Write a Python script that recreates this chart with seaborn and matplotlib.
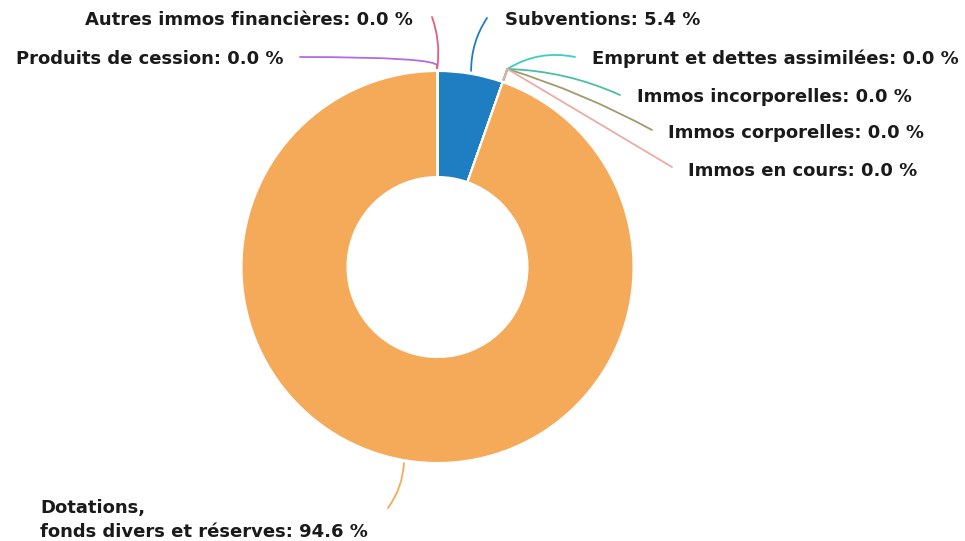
import numpy as np
import matplotlib
matplotlib.use('Agg')
import matplotlib.pyplot as plt
import seaborn as sns

# Données (pourcentages)
categories = [
    "Subventions",
    "Emprunt et dettes assimilées",
    "Immos incorporelles",
    "Immos corporelles",
    "Immos en cours",
    "Dotations,\nfonds divers et réserves",
    "Produits de cession",
    "Autres immos financières",
]
values = [5.4, 0.0, 0.0, 0.0, 0.0, 94.6, 0.0, 0.0]
colors = ["#1f7ec2", "#3ccfc0", "#49bfa6", "#a39a6c",
          "#eaaca6", "#f5aa5a", "#b36be6", "#e0607e"]

sns.set_style("white")
plt.rcParams['font.family'] = ['DejaVu Sans']

W, H = 965, 541
fig = plt.figure(figsize=(W / 100, H / 100), dpi=100)
ax = fig.add_axes([0, 0, 1, 1])

cx, cy = 437.5, H - 267
r_out, r_in = 196, 90

palette = sns.color_palette(colors)
wedges, _ = ax.pie(values, colors=palette, startangle=90, counterclock=False,
                   radius=r_out, center=(cx, cy), frame=True,
                   wedgeprops=dict(width=r_out - r_in, edgecolor='white', linewidth=1.5))
ax.set_xlim(0, W)
ax.set_ylim(0, H)
ax.set_aspect('equal')
ax.axis('off')

# mise en page des étiquettes (pixels, origine en haut) :
# rayon de départ, fin du trait, ancrage texte, courbe
label_layout = [
    (199, (487, 18), (505, 20), 'left', 'arc3,rad=0.15'),
    (210, (575, 57), (592, 59), 'left', 'arc3,rad=0.2'),
    (210, (620, 95), (637, 97), 'left', 'arc3,rad=0.1'),
    (210, (652, 130), (668, 133), 'left', 'arc3,rad=0.05'),
    (210, (672, 167), (688, 171), 'left', 'arc3,rad=0.0'),
    (199, (388, 508), (40, 520), 'left', 'arc3,rad=0.15'),
    (201, (300, 57), (284, 59), 'right', 'angle3,angleA=0,angleB=90'),
    (201, (432, 17), (413, 20), 'right', 'arc3,rad=-0.12'),
]

total = sum(values)
cum = 0.0
for name, val, col, (r0, end, txt, ha, conn) in zip(categories, values, colors, label_layout):
    mid = (cum + val / 2) / total * 2 * np.pi
    cum += val
    sx = cx + r0 * np.sin(mid)
    sy = cy + r0 * np.cos(mid)
    if val == 0:
        # petit segment depuis le bord du camembert
        ax.plot([cx + 198 * np.sin(mid), sx], [cy + 198 * np.cos(mid), sy],
                color=col, lw=1.3, solid_capstyle='butt')
    ex, ey = end[0], H - end[1]
    ax.annotate('', xy=(sx, sy), xytext=(ex, ey),
                arrowprops=dict(arrowstyle='-', color=col, lw=1.3,
                                connectionstyle=conn,
                                shrinkA=0, shrinkB=0))
    ax.text(txt[0], H - txt[1], f"{name}: {val:.1f} %", ha=ha, va='center',
            fontsize=13, fontweight='bold', color='#1a1a1a', linespacing=1.45)

fig.savefig('out.png', dpi=100, facecolor='white')
